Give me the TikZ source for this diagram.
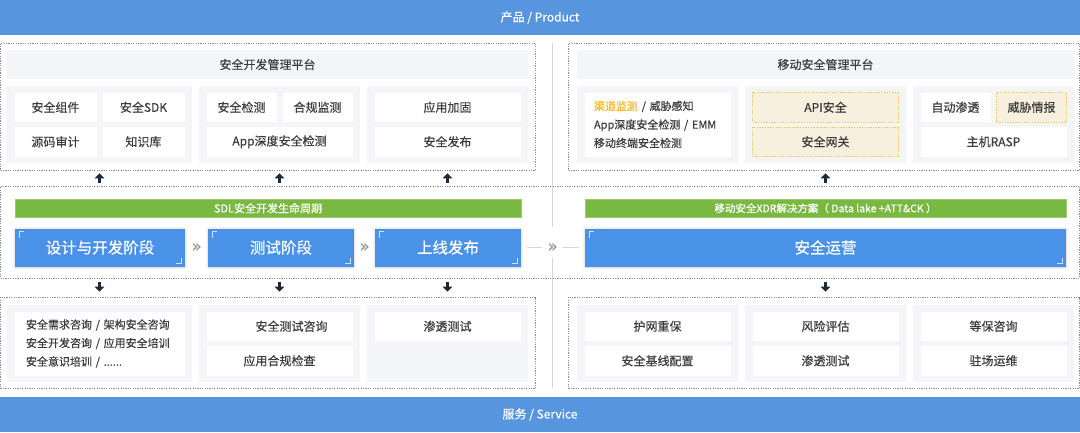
\documentclass[tikz,border=0pt]{standalone}
\usepackage{fontspec}
\setmainfont{Noto Sans CJK SC}[FakeBold=0.4]
\newfontfamily\chevfont{DejaVu Sans}[FakeBold=1.5]
\usetikzlibrary{positioning,arrows.meta,shadows.blur}

\definecolor{barblue}{RGB}{87,149,222}
\definecolor{boxblue}{RGB}{74,145,232}
\definecolor{sdlgreen}{RGB}{121,185,66}
\definecolor{panelgray}{RGB}{244,245,249}
\definecolor{txtgray}{RGB}{60,60,60}
\definecolor{framegray}{RGB}{140,140,140}
\definecolor{creamfill}{RGB}{248,240,222}
\definecolor{creamline}{RGB}{246,200,90}
\definecolor{hiorange}{RGB}{247,185,40}
\definecolor{arrowdark}{RGB}{30,42,58}
\definecolor{linegray}{RGB}{214,214,214}

\tikzset{
    sz/.style 2 args={minimum width=#1, minimum height=#2},
    nw/.style={anchor=north west, inner sep=0pt, outer sep=0pt},
    bar/.style={nw, fill=barblue, text=white, font=\fontsize{12}{14}\selectfont},
    frame/.style={nw, draw=framegray, line width=0.6pt, dash pattern=on 1.2pt off 1.2pt},
    panel/.style={nw, fill=panelgray},
    title/.style={nw, fill=panelgray, text=txtgray, font=\fontsize{12}{14}\selectfont},
    item/.style={nw, fill=white, text=txtgray, font=\fontsize{12}{14}\selectfont},
    hot/.style={item, fill=creamfill, draw=creamline, line width=0.6pt, dash pattern=on 1.5pt off 1.2pt},
    lines/.style={item, align=left, font=\fontsize{11}{18.5}\selectfont},
    sdl/.style={nw, fill=sdlgreen, draw=sdlgreen!75!white, line width=0.5pt, text=white, font=\fontsize{11}{12}\selectfont},
    stage/.style={nw, fill=boxblue, text=white, font=\fontsize{15.5}{18}\selectfont,
        blur shadow={shadow xshift=0pt, shadow yshift=-0.5pt, shadow blur radius=2.5pt, shadow opacity=20}},
    corner/.style={white, opacity=0.75, line width=0.7pt},
    chev/.style={inner sep=0pt, minimum width=21pt, text=gray!75, font=\chevfont\fontsize{16}{16}\selectfont},
    link/.style={linegray, line width=0.8pt},
    vline/.style={linegray, line width=1.5pt},
    uparr/.style={arrowdark, line width=3.4pt, -{Triangle[length=5pt, width=9.5pt]}},
}

\begin{document}
\begin{tikzpicture}[x=1pt, y=-1pt]
    \useasboundingbox (0,0) rectangle (1080,432);
    \pgfmathsetmacro{\ytop}{86}
    \pgfmathsetmacro{\ybot}{305}

    % product / service bars
    \node[bar, sz={1080}{35}] (prod) at (0,0) {产品 / Product};
    \node[bar, sz={1080}{35}] (serv) at (0,397) {服务 / Service};

    % divider
    \draw[vline] (552.5,43) -- (552.5,227);
    \draw[vline] (552.5,258) -- (552.5,388);

    % dotted frames
    \node[frame, sz={535}{127}] (tl) at (0.5,43) {};
    \node[frame, sz={511}{127}] (tr) at (568.5,43) {};
    \node[frame, sz={1079}{92}] (mid) at (0.5,186) {};
    \node[frame, sz={535}{91.5}] (bl) at (0.5,297) {};
    \node[frame, sz={511}{91.5}] (br) at (568.5,297) {};

    % gray panels
    \foreach \y/\s in {\ytop/tl,\ybot/bl} {
            \node[panel, sz={185}{77}] (\s p1) at (7,\y) {};
            \node[panel, sz={161}{77}] (\s p2) at (199,\y) {};
            \node[panel, sz={161}{77}] (\s p3) at (367,\y) {};
        }
    \foreach \y/\s in {\ytop/tr,\ybot/br} {
            \foreach \x [count=\i] in {577,745,913} {
                    \node[panel, sz={161}{77}] (\s p\i) at (\x,\y) {};
                }
        }

    % product side, left
    \node[title, sz={521}{29}] (tlt) at (7,50) {安全开发管理平台};
    \node[item, sz={82}{29.5}] (comp) at (14.5,92.5) {安全组件};
    \node[item, sz={82}{29.5}] (sdk) at (102.5,92.5) {安全SDK};
    \node[item, sz={82}{29.5}] (audit) at (14.5,127) {源码审计};
    \node[item, sz={82}{29.5}] (know) at (102.5,127) {知识库};
    \node[item, sz={70}{29.5}] (scan) at (206.5,92.5) {安全检测};
    \node[item, sz={70}{29.5}] (comply) at (282.5,92.5) {合规监测};
    \node[item, sz={146}{29.5}] (appdeep) at (206.5,127) {App深度安全检测};
    \node[item, sz={146}{29.5}] (harden) at (374.5,92.5) {应用加固};
    \node[item, sz={146}{29.5}] (release) at (374.5,127) {安全发布};

    % product side, right
    \node[title, sz={497}{29}] (trt) at (577,50) {移动安全管理平台};
    \node[lines, sz={146}{64}, inner xsep=9.5pt, text width=127pt] (mobile) at (584.5,92.5)
        {{\color{hiorange}渠道监测} / 威胁感知\\App深度安全检测 / EMM\\移动终端安全检测};
    \node[hot, sz={146}{29.5}] (api) at (752.5,92.5) {API安全};
    \node[hot, sz={146}{29.5}] (gate) at (752.5,127) {安全网关};
    \node[item, sz={70}{29.5}] (pentest) at (920.5,92.5) {自动渗透};
    \node[hot, sz={70}{29.5}] (intel) at (996.5,92.5) {威胁情报};
    \node[item, sz={146}{29.5}] (rasp) at (920.5,127) {主机RASP};

    % lifecycle
    \node[sdl, sz={506}{18.5}] (sdlbar) at (15,199) {SDL安全开发生命周期};
    \node[sdl, sz={481}{18.5}, font=\fontsize{10.5}{12}\selectfont] (xdrbar) at (585,199)
        {移动安全XDR解决方案（ Data lake +ATT\&CK ）};
    \node[stage, sz={170}{38}] (d1) at (15,228.5) {设计与开发阶段};
    \node[stage, sz={146}{38}] (d2) at (208,228.5) {测试阶段};
    \node[stage, sz={146}{38}] (d3) at (375,228.5) {上线发布};
    \node[stage, sz={481}{38}] (d4) at (585,228.5) {安全运营};
    \foreach \n in {d1,d2,d3,d4} {
            \draw[corner] ([shift={(4,9)}]\n.north west) -- ([shift={(4,3)}]\n.north west) -- ([shift={(9,3)}]\n.north west);
            \draw[corner] ([shift={(-4,-9)}]\n.south east) -- ([shift={(-4,-3)}]\n.south east) -- ([shift={(-9,-3)}]\n.south east);
        }
    \node[chev, right=1pt of d1] (c1) {»};
    \node[chev, right=0pt of d2] (c2) {»};
    \node[chev, right=21pt of d3] (c3) {»};
    \draw[link, shorten <=6pt] (d3.east) -- (c3.west);
    \draw[link, shorten >=6pt] (c3.east) -- (d4.west);

    % service side, left
    \node[lines, sz={170}{64}, inner xsep=11.5pt, text width=147pt] (consult) at (14.5,311.5)
        {安全需求咨询 / 架构安全咨询\\安全开发咨询 / 应用安全培训\\安全意识培训 / ......};
    \node[item, sz={146}{29.5}] (testcons) at (206.5,311.5) {\hspace*{24pt}安全测试咨询};
    \node[item, sz={146}{29.5}] (appcheck) at (206.5,346) {应用合规检查};
    \node[item, sz={146}{29.5}] (pen) at (374.5,311.5) {渗透测试};

    % service side, right
    \foreach \x/\a/\b [count=\i] in {584.5/护网重保/安全基线配置,752.5/风险评估/渗透测试,920.5/等保咨询/驻场运维} {
            \node[item, sz={146}{29.5}] (bra\i) at (\x,311.5) {\a};
            \node[item, sz={146}{29.5}] (brb\i) at (\x,346) {\b};
        }

    % arrows
    \foreach \n/\f in {tlp1/tl,tlp2/tl,tlp3/tl,trp2/tr} {
            \draw[uparr, shorten <=3.3pt, shorten >=3.3pt] (mid.north -| \n) -- (\f.south -| \n);
        }
    \foreach \n/\f in {blp1/bl,blp2/bl,blp3/bl,brp2/br} {
            \draw[uparr, shorten <=3.7pt, shorten >=5.3pt] (mid.south -| \n) -- (\f.north -| \n);
        }
\end{tikzpicture}
\end{document}
